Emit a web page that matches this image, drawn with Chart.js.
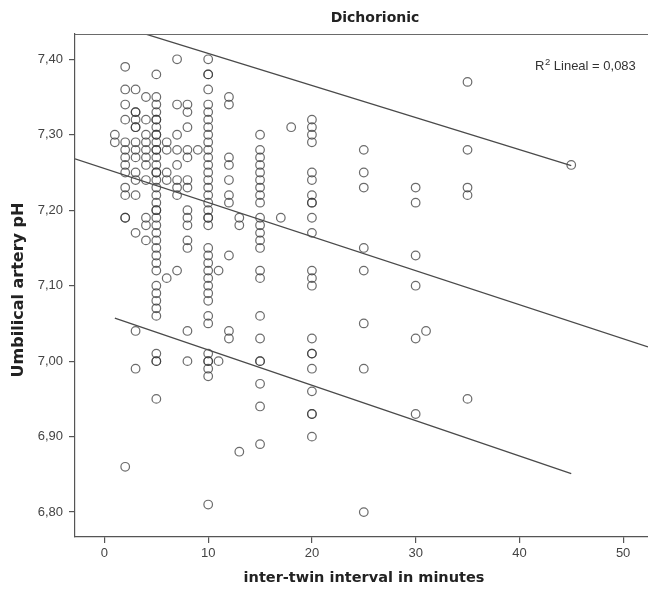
<!DOCTYPE html>
<html>
<head>
<meta charset="utf-8">
<script src="https://cdn.jsdelivr.net/npm/chart.js@4"></script>
<style>
  html, body { margin: 0; padding: 0; background: #fff; }
  #wrap { width: 648px; height: 590px; position: relative; }
</style>
</head>
<body>
<div id="wrap"><canvas id="c"></canvas></div>
<script>
// ---- Data ----
const chartTitle = "Dichorionic";
const xAxisTitle = "inter-twin interval in minutes";
const yAxisTitle = "Umbilical artery pH";
const r2Text = ["R", "2", " Lineal = 0,083"];

const xTicks = [0, 10, 20, 30, 40, 50];
const xTickLabels = ["0", "10", "20", "30", "40", "50"];
const yTicks = [6.80, 6.90, 7.00, 7.10, 7.20, 7.30, 7.40];
const yTickLabels = ["6,80", "6,90", "7,00", "7,10", "7,20", "7,30", "7,40"];

// interval (minutes) for each column of observations
const intervalMinutes = [1, 2, 3, 4, 5, 6, 7, 8, 9, 10, 11, 12, 13, 15, 17, 18, 20, 25, 30, 31, 35, 45];
// umbilical artery pH observed at each interval
const ph1  = [7.30, 7.29];
const ph2  = [7.39, 7.36, 7.34, 7.32, 7.29, 7.28, 7.27, 7.26, 7.25, 7.23, 7.22, 7.19, 7.19, 6.86];
const ph3  = [7.36, 7.33, 7.33, 7.32, 7.31, 7.31, 7.29, 7.28, 7.27, 7.25, 7.24, 7.22, 7.17, 7.04, 6.99];
const ph4  = [7.35, 7.32, 7.30, 7.29, 7.28, 7.27, 7.26, 7.24, 7.19, 7.18, 7.16];
const ph5  = [7.38, 7.35, 7.34, 7.33, 7.32, 7.32, 7.31, 7.30, 7.30, 7.29, 7.28, 7.28, 7.27, 7.26, 7.25, 7.25, 7.24, 7.23, 7.22, 7.21, 7.20, 7.20, 7.19, 7.18, 7.17, 7.16, 7.15, 7.14, 7.13, 7.12, 7.10, 7.09, 7.08, 7.07, 7.06, 7.01, 7.00, 7.00, 6.95];
const ph6  = [7.29, 7.28, 7.25, 7.24, 7.11];
const ph7  = [7.40, 7.34, 7.30, 7.28, 7.26, 7.24, 7.23, 7.22, 7.12];
const ph8  = [7.34, 7.33, 7.31, 7.28, 7.27, 7.24, 7.23, 7.20, 7.19, 7.18, 7.16, 7.15, 7.04, 7.00];
const ph9  = [7.28];
const ph10 = [7.40, 7.38, 7.38, 7.36, 7.34, 7.33, 7.32, 7.31, 7.30, 7.29, 7.28, 7.27, 7.26, 7.25, 7.24, 7.23, 7.22, 7.21, 7.20, 7.19, 7.19, 7.18, 7.15, 7.14, 7.13, 7.12, 7.11, 7.10, 7.09, 7.08, 7.06, 7.05, 7.01, 7.00, 7.00, 6.99, 6.98, 6.81];
const ph11 = [7.12, 7.00];
const ph12 = [7.35, 7.34, 7.27, 7.26, 7.24, 7.22, 7.21, 7.14, 7.04, 7.03];
const ph13 = [7.19, 7.18, 6.88];
const ph15 = [7.30, 7.28, 7.27, 7.26, 7.25, 7.24, 7.23, 7.22, 7.21, 7.19, 7.18, 7.17, 7.16, 7.15, 7.12, 7.11, 7.06, 7.03, 7.00, 7.00, 6.97, 6.94, 6.89];
const ph17 = [7.19];
const ph18 = [7.31];
const ph20 = [7.32, 7.31, 7.30, 7.29, 7.25, 7.24, 7.22, 7.21, 7.21, 7.19, 7.17, 7.12, 7.11, 7.10, 7.03, 7.01, 7.01, 6.99, 6.96, 6.93, 6.93, 6.90];
const ph25 = [7.28, 7.25, 7.23, 7.15, 7.12, 7.05, 6.99, 6.80];
const ph30 = [7.23, 7.21, 7.14, 7.10, 7.03, 6.93];
const ph31 = [7.04];
const ph35 = [7.37, 7.28, 7.23, 7.22, 6.95];
const ph45 = [7.26];
const phByInterval = [ph1, ph2, ph3, ph4, ph5, ph6, ph7, ph8, ph9, ph10, ph11, ph12, ph13, ph15, ph17, ph18, ph20, ph25, ph30, ph31, ph35, ph45];

// fit line and its prediction-interval lines (end points)
const fitX = [-2.84, 52.4];
const fitY = [7.268, 7.019];
const upperX = [1, 45];
const upperY = [7.446, 7.259];
const lowerX = [1, 45];
const lowerY = [7.057, 6.851];

const xMin = -2.84, xMax = 52.4;
const yMin = 6.767, yMax = 7.4335;

// ---- Build datasets ----
const points = [];
intervalMinutes.forEach((m, i) => phByInterval[i].forEach(p => points.push({ x: m, y: p })));
const toXY = (xs, ys) => xs.map((x, i) => ({ x: x, y: ys[i] }));

const lineStyle = { type: 'line', showLine: true, pointRadius: 0, borderColor: '#4a4a4a', borderWidth: 1.3, fill: false, tension: 0 };

const decor = {
  id: 'decor',
  afterDraw(chart) {
    const ctx = chart.ctx, a = chart.chartArea;
    ctx.save();
    // top frame line
    ctx.strokeStyle = '#6a6a6a';
    ctx.lineWidth = 1.2;
    ctx.beginPath();
    ctx.moveTo(a.left, a.top + 0.5);
    ctx.lineTo(648, a.top + 0.5);
    ctx.stroke();
    ctx.fillStyle = '#222';
    // title
    ctx.font = 'bold 14px "DejaVu Sans"';
    ctx.textAlign = 'center';
    ctx.textBaseline = 'middle';
    ctx.fillText(chartTitle, 375, 18);
    // x title
    ctx.font = 'bold 14.5px "DejaVu Sans"';
    ctx.fillText(xAxisTitle, 364, 578);
    // y title
    ctx.save();
    ctx.translate(19, 290);
    ctx.rotate(-Math.PI / 2);
    ctx.font = 'bold 16px "DejaVu Sans"';
    ctx.fillText(yAxisTitle, 0, 0);
    ctx.restore();
    // R2 label
    ctx.fillStyle = '#333';
    ctx.textAlign = 'left';
    ctx.textBaseline = 'alphabetic';
    let x = 535;
    const base = 70;
    ctx.font = '13px "Liberation Sans"';
    ctx.fillText(r2Text[0], x, base);
    x += ctx.measureText(r2Text[0]).width + 0.5;
    ctx.font = '9.5px "Liberation Sans"';
    ctx.fillText(r2Text[1], x, base - 5);
    x += ctx.measureText(r2Text[1]).width;
    ctx.font = '13px "Liberation Sans"';
    ctx.fillText(r2Text[2], x, base);
    ctx.restore();
  }
};

new Chart(document.getElementById('c'), {
  type: 'scatter',
  data: {
    datasets: [
      Object.assign({ data: toXY(fitX, fitY) }, lineStyle),
      Object.assign({ data: toXY(upperX, upperY) }, lineStyle),
      Object.assign({ data: toXY(lowerX, lowerY) }, lineStyle),
      {
        data: points,
        pointStyle: 'circle',
        pointRadius: 4.3,
        pointBorderWidth: 1.2,
        pointBorderColor: 'rgba(50,50,50,0.72)',
        pointBackgroundColor: 'rgba(0,0,0,0)',
        pointHoverRadius: 4.3,
        clip: false
      }
    ]
  },
  options: {
    responsive: true,
    maintainAspectRatio: false,
    animation: false,
    events: [],
    layout: { autoPadding: false, padding: { top: 34, left: 0, right: 0, bottom: 0 } },
    plugins: { legend: { display: false }, title: { display: false }, tooltip: { enabled: false } },
    scales: {
      x: {
        type: 'linear', min: xMin, max: xMax,
        afterBuildTicks: s => { s.ticks = xTicks.map(v => ({ value: v })); },
        afterFit: s => { s.height = 53; s.paddingLeft = 0; s.paddingRight = 0; },
        ticks: {
          callback: (v, i) => xTickLabels[i],
          font: { family: 'Liberation Sans', size: 13 }, color: '#444',
          padding: 3, maxRotation: 0, autoSkip: false
        },
        grid: { display: true, drawOnChartArea: false, drawTicks: true, tickLength: 6, color: '#555', lineWidth: 1.2 },
        border: { display: true, color: '#555', width: 1.2 }
      },
      y: {
        type: 'linear', min: yMin, max: yMax,
        afterBuildTicks: s => { s.ticks = yTicks.map(v => ({ value: v })); },
        afterFit: s => { s.width = 75; s.paddingTop = 0; s.paddingBottom = 0; },
        ticks: {
          callback: (v, i) => yTickLabels[i],
          font: { family: 'Liberation Sans', size: 13 }, color: '#444',
          padding: 6, autoSkip: false
        },
        grid: { display: true, drawOnChartArea: false, drawTicks: true, tickLength: 6, color: '#555', lineWidth: 1.2 },
        border: { display: true, color: '#555', width: 1.2 }
      }
    }
  },
  plugins: [decor]
});
</script>
</body>
</html>
